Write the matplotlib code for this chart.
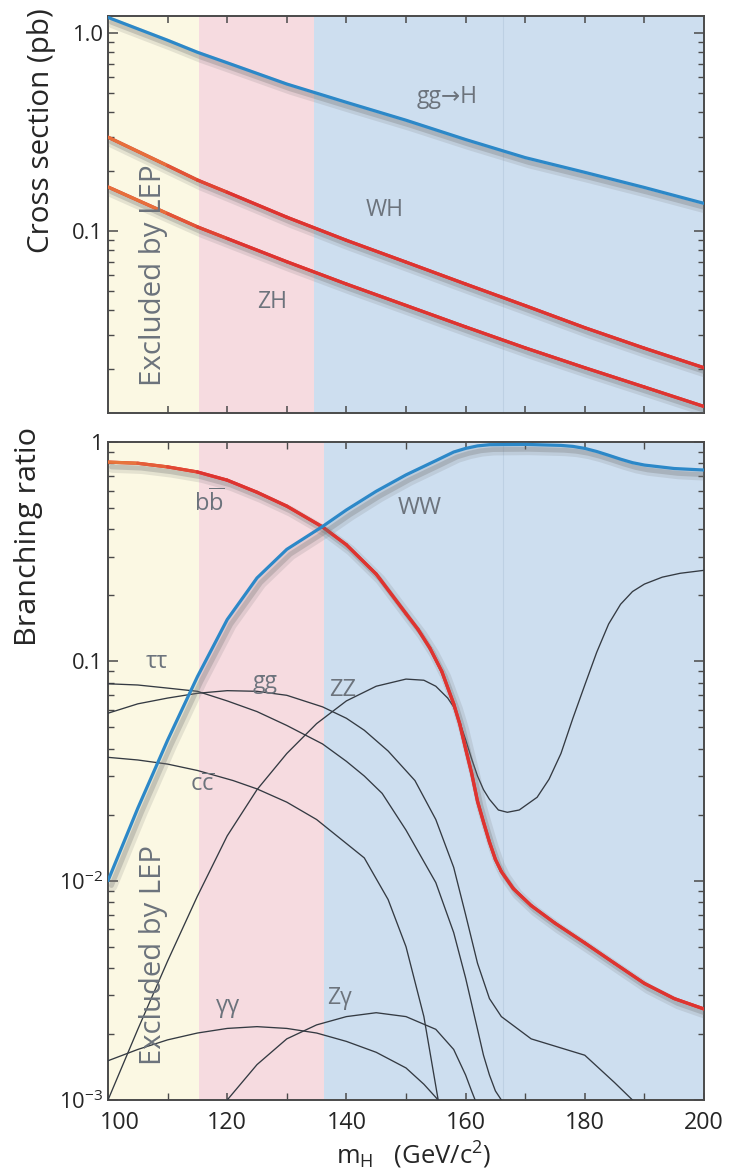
import numpy as np
import matplotlib
matplotlib.use('Agg')
import matplotlib.pyplot as plt
from matplotlib.collections import LineCollection
import matplotlib.patheffects as pe
import matplotlib.transforms as mtransforms
from matplotlib.ticker import FixedLocator, NullFormatter, FixedFormatter, LogLocator

plt.rcParams['font.family'] = ['Open Sans', 'DejaVu Sans']
plt.rcParams['mathtext.fontset'] = 'custom'
plt.rcParams['mathtext.rm'] = 'Open Sans'
plt.rcParams['mathtext.it'] = 'Open Sans:italic'
plt.rcParams['mathtext.bf'] = 'Open Sans:bold'

# ---------------- data: cross sections (pb) ----------------
m_xs = [100, 110, 115, 120, 130, 140, 150, 160, 170, 180, 190, 200]
xs_ggH = [1.20, 0.92, 0.80, 0.708, 0.553, 0.447, 0.363, 0.290, 0.235, 0.198, 0.166, 0.138]
xs_WH = [0.298, 0.214, 0.181, 0.157, 0.1175, 0.0898, 0.0697, 0.054, 0.0420, 0.0325, 0.0256, 0.0204]
xs_ZH = [0.167, 0.1225, 0.105, 0.0917, 0.070, 0.054, 0.0421, 0.0328, 0.0257, 0.0204, 0.0163, 0.0130]

# ---------------- data: branching ratios ----------------
m_bb = [100, 105, 110, 115, 120, 125, 130, 136, 140, 145, 150, 152, 154, 156, 158, 159, 160, 161, 162, 163, 164, 165, 166, 168, 171, 175, 180, 185, 190, 195, 200]
br_bb = [0.81, 0.80, 0.77, 0.73, 0.67, 0.59, 0.51, 0.41, 0.34, 0.25, 0.165, 0.14, 0.115, 0.090, 0.064, 0.052, 0.040, 0.031, 0.023, 0.0185, 0.015, 0.0125, 0.0110, 0.0092, 0.0077, 0.0064, 0.0052, 0.0042, 0.0034, 0.0029, 0.0026]

m_WW = [100, 105, 110, 115, 120, 125, 130, 136, 140, 145, 150, 155, 158, 160, 162, 164, 170, 176, 178, 180, 182, 184, 186, 188, 190, 195, 200]
br_WW = [0.010, 0.0214, 0.0437, 0.0851, 0.155, 0.240, 0.324, 0.412, 0.490, 0.596, 0.708, 0.822, 0.90, 0.935, 0.96, 0.972, 0.975, 0.965, 0.955, 0.935, 0.905, 0.87, 0.835, 0.805, 0.785, 0.757, 0.745]

m_ZZ = [100, 105, 110, 115, 120, 125, 130, 135, 140, 145, 150, 153, 155, 157, 158, 159, 160, 161, 162, 163, 164, 165.5, 167, 169, 172, 174, 176, 178, 180, 182, 184, 186, 188, 190, 193, 196, 200]
br_ZZ = [0.001, 0.0021, 0.0043, 0.0085, 0.016, 0.026, 0.038, 0.052, 0.066, 0.077, 0.083, 0.082, 0.077, 0.068, 0.062, 0.053, 0.044, 0.036, 0.030, 0.026, 0.0235, 0.021, 0.0205, 0.021, 0.024, 0.029, 0.038, 0.055, 0.078, 0.11, 0.148, 0.182, 0.208, 0.225, 0.242, 0.252, 0.26]

m_tau = [100, 105, 110, 115, 120, 125, 130, 136, 140, 143, 146, 150, 155, 158, 160, 162, 163, 164, 165, 166]
br_tau = [0.079, 0.078, 0.0755, 0.073, 0.066, 0.059, 0.051, 0.042, 0.035, 0.030, 0.025, 0.017, 0.0098, 0.0058, 0.0036, 0.0021, 0.0016, 0.0013, 0.0011, 0.001]

m_gg = [100, 105, 110, 115, 120, 125, 130, 136, 140, 143, 147, 151.5, 155, 158, 160, 162, 164, 166, 171, 180, 185, 188]
br_gg = [0.058, 0.064, 0.068, 0.0715, 0.0735, 0.073, 0.070, 0.062, 0.055, 0.0485, 0.039, 0.0286, 0.019, 0.0115, 0.0070, 0.0042, 0.0029, 0.0024, 0.0019, 0.0016, 0.0012, 0.001]

m_cc = [100, 105, 110, 115, 121, 125, 130, 135, 143, 147, 150, 153, 155.4]
br_cc = [0.0365, 0.0355, 0.034, 0.0318, 0.0286, 0.0262, 0.0228, 0.019, 0.0127, 0.0082, 0.0050, 0.0024, 0.001]

m_aa = [100, 105, 110, 115, 120, 125, 130, 135, 140, 145, 150, 153, 155.4]
br_aa = [0.00151, 0.0017, 0.00188, 0.00202, 0.00212, 0.00216, 0.00212, 0.00202, 0.00185, 0.00165, 0.0014, 0.00118, 0.001]

m_Za = [120, 125, 130, 135, 140, 145, 150, 155, 158, 160, 161, 161.6]
br_Za = [0.001, 0.00145, 0.0019, 0.0022, 0.0024, 0.0025, 0.0024, 0.0021, 0.0017, 0.0013, 0.0011, 0.001]

# shaded regions
top_bands = [(100, 115.3), (115.3, 134.5), (134.5, 200)]
bot_bands = [(100, 115.3), (115.3, 136.3), (136.3, 200)]
band_colors = ['#fbf8e3', '#f6dbe0', '#cddeef']

BLUE = '#2c88c8'
RED = '#de3430'
ORANGE = '#e9803e'
LABEL = '#6c737c'
AXC = '#4a4a4a'
TXT = '#262626'

shadow = [pe.SimpleLineShadow(offset=(3, -4), shadow_color='#707070', alpha=0.16, linewidth=7.5),
          pe.SimpleLineShadow(offset=(2.5, -3.5), shadow_color='#707070', alpha=0.28, linewidth=3.5),
          pe.Normal()]


def red_line(ax, x, y, x0, x1, lw=2.3):
    ax.plot(x, y, color=RED, lw=lw, zorder=5, path_effects=shadow, solid_capstyle='round')
    x = np.asarray(x, float)
    y = np.asarray(y, float)
    pts = np.column_stack([x, y])
    segs = np.stack([pts[:-1], pts[1:]], axis=1)
    mid = 0.5 * (x[:-1] + x[1:])
    t = np.clip((mid - x0) / (x1 - x0), 0, 1)
    c0 = np.array(matplotlib.colors.to_rgb(ORANGE))
    c1 = np.array(matplotlib.colors.to_rgb(RED))
    cols = [(1 - ti) * c0 + ti * c1 for ti in t]
    lc = LineCollection(segs, colors=cols, linewidths=lw, capstyle='round', joinstyle='round', zorder=5.5)
    ax.add_collection(lc)


fig = plt.figure(figsize=(7.35, 11.71), dpi=100)
W, H = 735.0, 1171.0


def fx(px):
    return px / W


def fy(py):
    return 1 - py / H


ax1 = fig.add_axes([108 / W, 1 - 413 / H, 596 / W, 397 / H])
ax2 = fig.add_axes([108 / W, 1 - 1100 / H, 596 / W, 658 / H])

for ax, bands in ((ax1, top_bands), (ax2, bot_bands)):
    for (a, b), c in zip(bands, band_colors):
        ax.axvspan(a, b, color=c, lw=0, zorder=0)
    ax.axvline(166.3, color='#bdd0e3', lw=0.8, zorder=0.5)
    ax.set_xlim(100, 200)
    ax.set_yscale('log')
    for s in ax.spines.values():
        s.set_color(AXC)
        s.set_linewidth(1.4)
    ax.tick_params(which='both', direction='in', top=True, right=True, colors=AXC,
                   labelcolor=TXT, labelsize=16)
    ax.tick_params(which='major', length=7, width=1.1)
    ax.tick_params(which='minor', length=4, width=1.0)

# ---------------- top panel ----------------
ax1.set_ylim(0.01205, 1.22)
ax1.plot(m_xs, xs_ggH, color=BLUE, lw=2.3, zorder=5, path_effects=shadow, solid_capstyle='round')
red_line(ax1, m_xs, xs_WH, 100, 122)
red_line(ax1, m_xs, xs_ZH, 100, 122)
ax1.xaxis.set_major_locator(FixedLocator(list(range(110, 200, 10))))
ax1.xaxis.set_major_formatter(NullFormatter())
ax1.tick_params(axis='x', which='major', length=5)
ax1.yaxis.set_major_locator(FixedLocator([0.1, 1.0]))
ax1.yaxis.set_major_formatter(FixedFormatter(['0.1', '1.0']))
ax1.yaxis.set_minor_locator(LogLocator(base=10, subs=np.arange(2, 10)))
ax1.yaxis.set_minor_formatter(NullFormatter())

t_gg = ax1.text(156.9, 0.475, 'gg→H', fontsize=16.5, color=LABEL, ha='center', va='center', zorder=6)
t_wh = ax1.text(146.5, 0.128, 'WH', fontsize=16, color=LABEL, ha='center', va='center', zorder=6)
t_zh = ax1.text(127.5, 0.0437, 'ZH', fontsize=16, color=LABEL, ha='center', va='center', zorder=6)
t_lep1 = ax1.text(107.7, 0.060, 'Excluded by LEP', fontsize=17, color=LABEL, ha='center', va='center',
                  rotation=90, zorder=6)

# ---------------- bottom panel ----------------
ax2.set_ylim(1e-3, 1)
thin = dict(color='#343a42', lw=0.95, zorder=3)
ax2.plot(m_tau, br_tau, **thin)
ax2.plot(m_gg, br_gg, **thin)
ax2.plot(m_cc, br_cc, **thin)
ax2.plot(m_aa, br_aa, **thin)
ax2.plot(m_Za, br_Za, **thin)
ax2.plot(m_ZZ, br_ZZ, **thin)
red_line(ax2, m_bb, br_bb, 100, 117)
ax2.plot(m_WW, br_WW, color=BLUE, lw=2.3, zorder=6, path_effects=shadow, solid_capstyle='round')

ax2.xaxis.set_major_locator(FixedLocator(list(range(100, 201, 20))))
ax2.xaxis.set_minor_locator(FixedLocator(list(range(110, 200, 20))))
ax2.tick_params(axis='x', which='both', length=5, pad=8)
ax2.yaxis.set_major_locator(FixedLocator([1e-3, 1e-2, 0.1, 1]))
ax2.yaxis.set_major_formatter(FixedFormatter([r'10$^{-3}$', r'10$^{-2}$', '0.1', '1']))
ax2.yaxis.set_minor_locator(LogLocator(base=10, subs=np.arange(2, 10)))
ax2.yaxis.set_minor_formatter(NullFormatter())

lab = dict(fontsize=16, color=LABEL, ha='center', va='center', zorder=7)
t_bb = ax2.text(117.1, 0.527, r'b$\overline{\mathrm{b}}$', **lab)
t_ww = ax2.text(152.3, 0.50, 'WW', **lab)
t_tt = ax2.text(108.2, 0.099, 'ττ', **lab)
t_g2 = ax2.text(126.3, 0.0805, 'gg', **lab)
t_zz = ax2.text(139.4, 0.074, 'ZZ', **lab)
t_cc = ax2.text(115.9, 0.0273, r'c$\overline{\mathrm{c}}$', **lab)
t_aa = ax2.text(120.1, 0.00268, 'γγ', **lab)
t_za = ax2.text(138.9, 0.00292, 'Zγ', **lab)
t_lep2 = ax2.text(107.6, 0.00458, 'Excluded by LEP', fontsize=17, color=LABEL, ha='center', va='center',
                  rotation=90, zorder=6)

# axis titles placed at their positions in the figure
t_y1 = fig.text(fx(42), fy(131), 'Cross section (pb)', fontsize=19, color=TXT, rotation=90,
                ha='center', va='center')
t_y2 = fig.text(fx(29), fy(536), 'Branching ratio', fontsize=19, color=TXT, rotation=90,
                ha='center', va='center')
t_x = fig.text(fx(414), fy(1155), r'm$_{\mathrm{H}}$   (GeV/c$^{2}$)', fontsize=16, color=TXT,
               ha='center', va='center')

# ---------- size texts to match the measured extents ----------
fig.canvas.draw()
r = fig.canvas.get_renderer()


def fit(t, target, vertical=False, cap=None):
    bb = t.get_window_extent(r)
    cur = bb.height if vertical else bb.width
    size = t.get_fontsize() * target / cur
    if cap is not None:
        size = min(size, cap)
    t.set_fontsize(size)


fit(t_y1, 245, True)
fit(t_y2, 218, True)
fit(t_lep1, 222, True)
fit(t_lep2, 220, True)
fit(t_wh, 38, cap=17.5)
fit(t_zh, 30, cap=17.5)
fit(t_bb, 31, cap=17)
fit(t_ww, 44, cap=17.5)
fit(t_tt, 27, cap=17)
fit(t_g2, 29, cap=16.5)
fit(t_zz, 31, cap=17)
fit(t_cc, 26, cap=17)
fit(t_aa, 27, cap=17)
fit(t_za, 25, cap=17)
fit(t_x, 156)

lbl100 = ax2.get_xticklabels()[0]
w100 = lbl100.get_window_extent(r).width
xsize = 16 * 40.0 / w100
lbl10 = ax1.get_yticklabels()[1]
w10 = lbl10.get_window_extent(r).width
ysize = 16 * 31.0 / w10
for ax in (ax1, ax2):
    ax.tick_params(axis='x', labelsize=xsize)
    ax.tick_params(axis='y', labelsize=ysize)

fig.canvas.draw()
first = ax2.xaxis.get_major_ticks()[0].label1
first.set_transform(first.get_transform() + mtransforms.ScaledTranslation(12 / 100.0, 0, fig.dpi_scale_trans))

fig.savefig('out.png', dpi=100)
